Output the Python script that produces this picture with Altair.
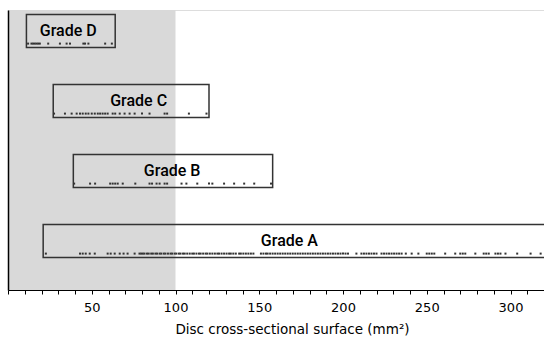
import altair as alt
import pandas as pd

grades = ["Grade D", "Grade C", "Grade B", "Grade A"]
row_pos = [0.6, 2.6, 4.6, 6.6]
box_start = [11, 27, 39, 21]
box_end = [64, 120, 158, 330]
label_x = [36, 78, 98, 168]

pts_D = [12, 14, 15, 16, 17, 18, 19, 24, 31, 35, 37, 45, 46, 48, 58, 62]
pts_C = [27.5, 34, 38, 41, 43, 44.6, 46.4, 48, 50, 51.8, 53.6, 55, 56.5, 58, 59.5,
         62.5, 64, 66.7, 69.6, 72.6, 75.6, 80, 84.5, 93.5, 95, 108, 118.5]
pts_B = [39.5, 49, 52, 61, 62.5, 64, 65.5, 68.5, 76, 84.5, 86, 88.7, 90.5, 93.5, 95,
         103.6, 106.5, 113, 120, 122, 129, 135, 141, 147, 157]
pts_A = [22.6, 43, 44.6, 46.4, 48.8, 51.8, 59.5, 61.3, 63.7, 66.7, 69, 71.4, 75.6,
         78.5, 79.5, 80.5, 81.5, 83, 84, 85.5, 86.5, 88, 89, 90.5, 91.5, 93, 94, 95.5,
         97, 98, 99.5, 100.5, 102, 103, 104.5, 105.5, 107, 108.5, 110, 111, 112.5, 114,
         115, 116.5, 118, 119, 120.5, 122, 123.5, 125, 126, 127.5, 129, 130.5, 132, 133,
         134.5, 136, 138, 139, 140.5, 142, 143.5, 145, 146.5, 151, 152.5, 154, 155,
         156.5, 158, 159.5, 161, 162.5, 164, 165.5, 167, 168.5, 170, 171.5, 173, 174.5,
         176, 177.5, 179, 180.5, 182, 183.5, 185, 186.5, 188, 189.5, 191, 192.5, 194,
         195.5, 197, 198.5, 200, 201.5, 203, 208, 211, 212.5, 214, 215.5, 217, 218.5,
         220, 223, 224.5, 226, 227.5, 229, 230.5, 232, 233.5, 235, 237.5, 241, 245, 250,
         251.5, 253, 254.5, 261, 267, 270, 271.5, 273, 279, 284, 285.5, 287, 291, 292.5,
         294, 297, 304, 312, 318]
all_pts = [pts_D, pts_C, pts_B, pts_A]

shade_range = [0, 100]
x_domain = [0, 320]
y_domain = [0, 8]
tick_vals = [0, 10, 20, 30, 40, 50, 60, 70, 80, 90, 100, 110, 120, 130, 140, 150,
             160, 170, 180, 190, 200, 210, 220, 230, 240, 250, 260, 270, 280, 290,
             300, 310, 320]

boxes = pd.DataFrame({
    "grade": grades,
    "x": box_start,
    "x2": box_end,
    "y": [r - 0.47 for r in row_pos],
    "y2": [r + 0.47 for r in row_pos],
    "lx": label_x,
    "ly": row_pos,
})

rows = []
for g, r, pts in zip(grades, row_pos, all_pts):
    for v in pts:
        rows.append({"grade": g, "x": v, "y": r + 0.36})
points = pd.DataFrame(rows)

shade = pd.DataFrame({"x": [shade_range[0]], "x2": [shade_range[1]],
                      "y": [y_domain[0]], "y2": [y_domain[1]]})

xscale = alt.Scale(domain=x_domain, nice=False, zero=False)
yscale = alt.Scale(domain=y_domain, reverse=True, nice=False)

xaxis = alt.Axis(
    values=tick_vals,
    labelExpr="(datum.value % 50 == 0 && datum.value > 0) ? datum.label : ''",
    labelOverlap=False,
    grid=False,
    tickSize=4,
    tickColor="black",
    domainColor="black",
    labelColor="black",
    labelFontSize=13,
    labelFont="DejaVu Sans",
    labelPadding=7,
    title="Disc cross-sectional surface (mm²)",
    titleFont="DejaVu Sans",
    titleFontSize=13.5,
    titleFontWeight="normal",
    titleColor="black",
    titlePadding=8,
    titleX=284,
    zindex=1,
)
yaxis = alt.Axis(labels=False, ticks=False, grid=False, title=None,
                 domainColor="black", domainWidth=1.5, zindex=1)


def X(field):
    return alt.X(field, scale=xscale, axis=xaxis)


def Y(field):
    return alt.Y(field, scale=yscale, axis=yaxis)


shade_layer = alt.Chart(shade).mark_rect(color="#d9d9d9").encode(
    x=X("x:Q"), x2="x2:Q", y=Y("y:Q"), y2="y2:Q",
)

box_layer = alt.Chart(boxes).mark_rect(
    fill=None, fillOpacity=0, stroke="#333333", strokeWidth=1.5, clip=True
).encode(
    x=X("x:Q"), x2="x2:Q", y=Y("y:Q"), y2="y2:Q",
)

point_layer = alt.Chart(points).mark_square(size=4, color="#333333", opacity=1).encode(
    x=X("x:Q"), y=Y("y:Q"),
)

label_layer = alt.Chart(boxes).mark_text(
    font="Roboto", fontSize=16, fontWeight=500, color="black", align="center",
    baseline="middle"
).encode(
    x=X("lx:Q"), y=Y("ly:Q"), text="grade:N",
)

chart = alt.layer(shade_layer, box_layer, point_layer, label_layer).properties(
    width=536, height=280,
    autosize=alt.AutoSizeParams(type="none"),
    padding={"left": 8, "top": 10, "right": 0, "bottom": 52},
).configure_view(stroke=None).configure(background="white")

chart.save("out.html", embed_options={"renderer": "svg", "actions": False})
